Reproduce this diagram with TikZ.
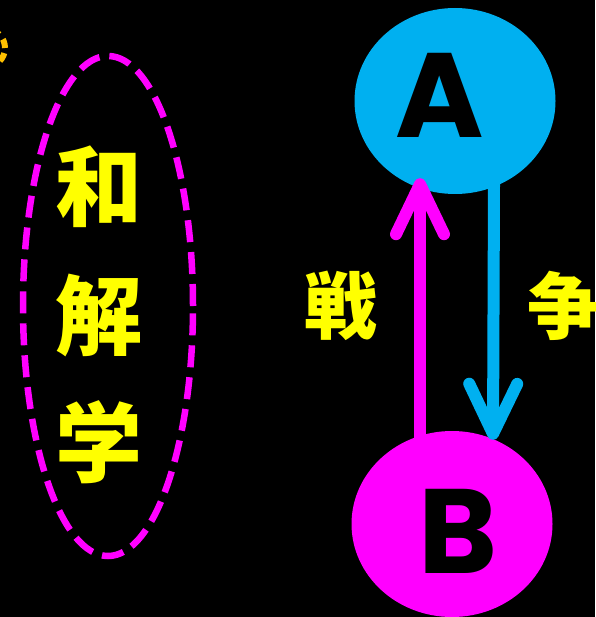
\documentclass[tikz,border=0pt]{standalone}
\usepackage{fontspec}
\newfontfamily\cjk{Noto Sans CJK JP}
\newfontfamily\geo{Poppins}
\usetikzlibrary{shapes.geometric,arrows.meta}
\definecolor{cyanA}{HTML}{00B0F0}
\definecolor{magB}{HTML}{FF00FF}
\definecolor{yel}{HTML}{FFFF00}
\definecolor{org}{HTML}{FFC000}
\tikzset{
  blob/.style={ellipse, minimum width=201pt, minimum height=186pt, inner sep=0pt},
  letter/.style={inner sep=0pt, text=black, font=\geo\bfseries\fontsize{120}{120}\selectfont},
  bigkanji/.style={inner sep=0pt, text=yel, font=\cjk\bfseries\fontsize{87}{87}\selectfont},
  midkanji/.style={inner sep=0pt, text=yel, font=\cjk\bfseries\fontsize{73}{73}\selectfont},
  conn/.style={line width=12pt, -{Straight Barb[length=50pt,width=48pt,round]}},
  ring/.style={draw=magB, line width=6.5pt, dash pattern=on 22pt off 10pt}
}
\begin{document}
\begin{tikzpicture}[x=1pt,y=-1pt]
\fill[black] (0,0) rectangle (595,617);
\useasboundingbox (0,0) rectangle (595,617);
\clip (0,0) rectangle (595,617);
% orange fragment at the left edge
\draw[org, line width=6pt, dash pattern=on 9pt off 6pt] (-14,48) circle[radius=19pt];
% dashed ellipse with vertical text
\node[ring, ellipse, minimum width=170pt, minimum height=500pt, inner sep=0pt] (E) at (108,306) {};
\node[bigkanji] (k1) at (99,187) {和};
\node[bigkanji] (k2) at (99,315) {解};
\node[bigkanji] (k3) at (99,442) {学};
% A and B
\node[blob, fill=cyanA] (A) at (455,101) {};
\node[blob, fill=magB] (B) at (452,524) {};
\node[letter] (Alab) at (440,95) {A};
\node[letter] (Blab) at (458,531) {B};
% arrows
\draw[conn, draw=magB] ([xshift=-32pt,yshift=-10pt]B.north) -- ([xshift=-35pt,yshift=16pt]A.south);
\draw[conn, draw=cyanA] ([xshift=39pt,yshift=10pt]A.south) -- ([xshift=41pt,yshift=-9pt]B.north);
% labels
\node[midkanji] (w1) at (341,306) {戦};
\node[midkanji] (w2) at (564,306) {争};
\end{tikzpicture}
\end{document}
